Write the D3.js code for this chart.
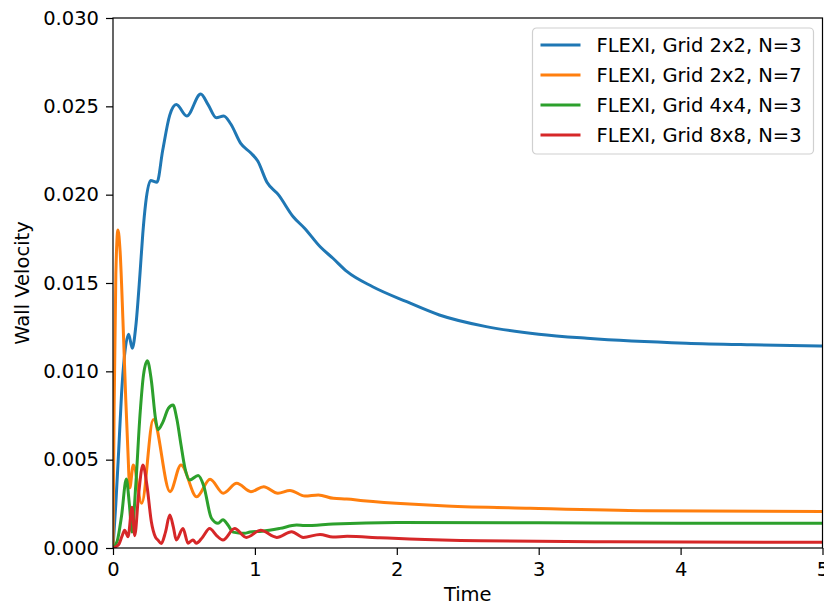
<!DOCTYPE html>
<html>
<head>
<meta charset="utf-8">
<script src="https://cdn.jsdelivr.net/npm/d3@7"></script>
<style>
  body { margin: 0; background: #fff; }
  svg { display: block; font-family: "DejaVu Sans", sans-serif; }
</style>
</head>
<body>
<svg id="chart" width="824" height="607"></svg>
<script>
// series: [time, wall velocity]
var grid2N3 = [
  [0, 0], [0.02, 0.0025], [0.04, 0.0055], [0.06, 0.0087], [0.08, 0.0108], [0.11, 0.0121],
  [0.136, 0.0113], [0.16, 0.0125], [0.19, 0.0155], [0.21, 0.0178], [0.23, 0.0195],
  [0.265, 0.0208], [0.31, 0.0207], [0.35, 0.0225], [0.40, 0.0245], [0.446, 0.0251],
  [0.52, 0.02445], [0.618, 0.0257], [0.67, 0.0251], [0.728, 0.02435], [0.78, 0.02445],
  [0.83, 0.0240], [0.90, 0.0229], [0.97, 0.02237], [1.02, 0.0219], [1.085, 0.0207],
  [1.165, 0.0200], [1.27, 0.01875], [1.35, 0.0181], [1.46, 0.01705], [1.55, 0.0164],
  [1.65, 0.01564], [1.83, 0.01479], [2.07, 0.01394], [2.3, 0.01319], [2.63, 0.01253],
  [3.0, 0.0121], [3.34, 0.01187], [4.04, 0.01159], [4.5, 0.0115], [5, 0.01143]
];
var grid2N7 = [
  [0, 0], [0.008, 0.008], [0.02, 0.0155], [0.035, 0.018], [0.05, 0.0168], [0.07, 0.0129],
  [0.09, 0.0084], [0.105, 0.0055], [0.118, 0.0034], [0.143, 0.0047], [0.202, 0.00253],
  [0.284, 0.00728], [0.402, 0.00319], [0.479, 0.0047], [0.59, 0.0029], [0.684, 0.00389],
  [0.777, 0.0031], [0.872, 0.00366], [0.972, 0.00319], [1.062, 0.00347], [1.162, 0.0031],
  [1.247, 0.00326], [1.353, 0.00294], [1.447, 0.003], [1.553, 0.00281], [1.647, 0.00277],
  [1.764, 0.00268], [2.09, 0.00249], [2.35, 0.00238], [2.94, 0.00225], [3.76, 0.00211],
  [5, 0.00206]
];
var grid4N3 = [
  [0, 0], [0.03, 0.0004], [0.06, 0.0018], [0.094, 0.0039], [0.115, 0.0025], [0.134, 0.0009],
  [0.16, 0.0035], [0.19, 0.0075], [0.215, 0.0098], [0.242, 0.0106], [0.27, 0.0095],
  [0.3, 0.0073], [0.317, 0.0067], [0.35, 0.0071], [0.39, 0.0079], [0.423, 0.0081],
  [0.45, 0.0073], [0.48, 0.0058], [0.505, 0.0046], [0.54, 0.00385], [0.6, 0.0041],
  [0.64, 0.0035], [0.693, 0.0017], [0.74, 0.0014], [0.775, 0.0016], [0.81, 0.0013],
  [0.846, 0.0009], [0.928, 0.00083], [0.965, 0.0009], [1.05, 0.00095], [1.177, 0.00111],
  [1.294, 0.0013], [1.35, 0.00127], [1.55, 0.00136], [2.0, 0.00145], [3, 0.00143],
  [4, 0.0014], [5, 0.0014]
];
var grid8N3 = [
  [0, 0], [0.04, 0.0002], [0.065, 0.0007], [0.082, 0.001], [0.106, 0.00064], [0.134, 0.0023],
  [0.153, 0.0007], [0.18, 0.003], [0.211, 0.0047], [0.24, 0.0035], [0.27, 0.0015],
  [0.3, 0.0006], [0.317, 0.00045], [0.34, 0.00025], [0.37, 0.0009], [0.4, 0.00187],
  [0.425, 0.0012], [0.446, 0.00045], [0.493, 0.0011], [0.529, 0.00027], [0.55, 0.0004],
  [0.564, 0.00045], [0.587, 0.00027], [0.63, 0.0006], [0.681, 0.0011], [0.73, 0.0007],
  [0.775, 0.00045], [0.857, 0.0011], [0.94, 0.0006], [1.04, 0.001], [1.154, 0.0006],
  [1.259, 0.00092], [1.341, 0.0006], [1.459, 0.00077], [1.55, 0.00062], [1.65, 0.00066],
  [1.88, 0.00058], [2.09, 0.00051], [2.59, 0.00041], [3.5, 0.00035], [5, 0.00032]
];

var seriesNames = ['FLEXI, Grid 2x2, N=3', 'FLEXI, Grid 2x2, N=7', 'FLEXI, Grid 4x4, N=3', 'FLEXI, Grid 8x8, N=3'];
var seriesData = [grid2N3, grid2N7, grid4N3, grid8N3];
var colors = ['#1f77b4', '#ff7f0e', '#2ca02c', '#d62728'];
var xTicks = [0, 1, 2, 3, 4, 5];
var yTicks = [0, 0.005, 0.01, 0.015, 0.02, 0.025, 0.03];

var svg = d3.select('#chart'),
    margin = {left: 113, top: 18, right: 1.5, bottom: 59},
    width = 824 - margin.left - margin.right,
    height = 607 - margin.top - margin.bottom,
    fontSize = 19.5;

var x = d3.scaleLinear().domain([0, 5]).range([0, width]);
var y = d3.scaleLinear().domain([0, 0.03]).range([height, 0]);

var g = svg.append('g').attr('transform', 'translate(' + margin.left + ',' + margin.top + ')');

g.append('clipPath').attr('id', 'clip')
  .append('rect').attr('width', width).attr('height', height);

var line = d3.line()
  .x(function(d) { return x(d[0]); })
  .y(function(d) { return y(d[1]); })
  .curve(d3.curveMonotoneX);

g.append('g').attr('clip-path', 'url(#clip)')
  .selectAll('path')
  .data(seriesData)
  .enter().append('path')
  .attr('d', line)
  .attr('fill', 'none')
  .attr('stroke', function(d, i) { return colors[i]; })
  .attr('stroke-width', 3)
  .attr('stroke-linejoin', 'round')
  .attr('stroke-linecap', 'square');

var xAxis = g.append('g')
  .attr('transform', 'translate(0,' + height + ')')
  .call(d3.axisBottom(x).tickValues(xTicks).tickFormat(d3.format('d')).tickSizeOuter(0).tickSize(7).tickPadding(7));
var yAxis = g.append('g')
  .call(d3.axisLeft(y).tickValues(yTicks).tickFormat(d3.format('.3f')).tickSizeOuter(0).tickSize(7).tickPadding(7));

[xAxis, yAxis].forEach(function(a) {
  a.select('.domain').remove();
  a.selectAll('line').attr('stroke', '#000').attr('stroke-width', 1.2);
  a.selectAll('text').attr('fill', '#000').style('font-size', fontSize + 'px').style('font-family', '"DejaVu Sans"');
});

// frame
g.append('rect')
  .attr('width', width).attr('height', height)
  .attr('fill', 'none').attr('stroke', '#000').attr('stroke-width', 1.2);

svg.append('text')
  .attr('x', margin.left + width / 2).attr('y', 601)
  .attr('text-anchor', 'middle')
  .style('font-size', fontSize + 'px')
  .text('Time');

svg.append('text')
  .attr('transform', 'translate(29,' + (margin.top + height / 2) + ') rotate(-90)')
  .attr('text-anchor', 'middle')
  .style('font-size', fontSize + 'px')
  .text('Wall Velocity');

// legend, upper right
var legend = g.append('g').attr('transform', 'translate(' + (width - 290) + ',10)');
legend.append('rect')
  .attr('x', 0).attr('y', 0).attr('width', 281).attr('height', 126).attr('rx', 4)
  .attr('fill', '#fff').attr('fill-opacity', 0.8)
  .attr('stroke', '#d0d0d0').attr('stroke-width', 1.2);

var item = legend.selectAll('.item')
  .data(seriesNames)
  .enter().append('g')
  .attr('class', 'item')
  .attr('transform', function(d, i) { return 'translate(0,' + (17 + i * 30) + ')'; });
item.append('line')
  .attr('x1', 8).attr('x2', 48)
  .attr('stroke', function(d, i) { return colors[i]; })
  .attr('stroke-width', 3);
item.append('text')
  .attr('x', 64).attr('dy', '0.36em')
  .style('font-size', fontSize + 'px')
  .text(function(d) { return d; });
</script>
</body>
</html>
